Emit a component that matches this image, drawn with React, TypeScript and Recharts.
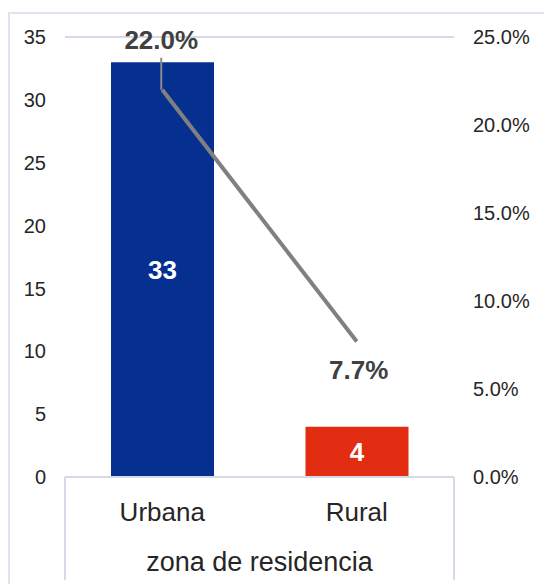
import {
  Bar,
  CartesianGrid,
  Cell,
  ComposedChart,
  LabelList,
  Line,
  XAxis,
  YAxis,
} from 'recharts';

const zonas = ['Urbana', 'Rural'];
const casos = [33, 4];
const porcentajes = [0.22, 0.077];
const barColors = ['#06308f', '#e32d12'];
const leftTicks = [0, 5, 10, 15, 20, 25, 30, 35];
const rightTicks = [0, 0.05, 0.1, 0.15, 0.2, 0.25];

const data = zonas.map((zona, i) => ({
  zona,
  casos: casos[i],
  pct: porcentajes[i],
}));

const FONT = '"Liberation Sans", Arial, sans-serif';
const GRID = '#d6dae8';

function PctLabel(props: any) {
  const { x, y, value, index } = props;
  const text = (value * 100).toFixed(1) + '%';
  if (index === 0) {
    return (
      <g>
        <line x1={x - 1} y1={y - 32} x2={x - 1} y2={y} stroke="#8a8a8a" strokeWidth={2} />
        <text x={x - 1} y={y - 41} textAnchor="middle" fontFamily={FONT} fontSize={26} fontWeight="bold" fill="#404040">
          {text}
        </text>
      </g>
    );
  }
  return (
    <text x={x + 2} y={y + 38} textAnchor="middle" fontFamily={FONT} fontSize={26} fontWeight="bold" fill="#404040">
      {text}
    </text>
  );
}

function AxisBox(props: any) {
  const { viewBox } = props;
  const { x, y, width } = viewBox;
  return (
    <g>
      <line x1={x} y1={y} x2={x} y2={y + 103} stroke={GRID} strokeWidth={2} />
      <line x1={x + width} y1={y} x2={x + width} y2={y + 103} stroke={GRID} strokeWidth={2} />
      <text x={x + width / 2} y={y + 94} textAnchor="middle" fontFamily={FONT} fontSize={27} fill="#262626">
        zona de residencia
      </text>
    </g>
  );
}

export default function App() {
  return (
    <div style={{ position: 'absolute', left: 0, top: 0, width: 544, height: 584, background: '#fff' }}>
      <div
        style={{
          position: 'absolute',
          left: 8,
          top: 12,
          right: 0,
          bottom: 0,
          borderLeft: '2px solid #e0e4f0',
          borderTop: '2px solid #e0e4f0',
        }}
      />
      <div style={{ position: 'absolute', left: 0, top: 0 }}>
        <ComposedChart width={544} height={584} data={data} margin={{ top: 37, right: 0, left: 0, bottom: 0 }}>
          <CartesianGrid vertical={false} stroke={GRID} strokeWidth={2} />
          <XAxis
            dataKey="zona"
            height={107}
            tickLine={false}
            tickSize={0}
            tickMargin={26}
            axisLine={{ stroke: GRID, strokeWidth: 2 }}
            tick={{ fontFamily: FONT, fontSize: 26, fill: '#262626' }}
            label={<AxisBox />}
          />
          <YAxis
            yAxisId="left"
            width={65}
            domain={[0, 35]}
            ticks={leftTicks}
            axisLine={false}
            tickLine={false}
            tickSize={0}
            tickMargin={19}
            tick={{ fontFamily: FONT, fontSize: 20, fill: '#262626' }}
          />
          <YAxis
            yAxisId="right"
            orientation="right"
            width={90}
            domain={[0, 0.25]}
            ticks={rightTicks}
            axisLine={false}
            tickLine={false}
            tickSize={0}
            tickMargin={19}
            tickFormatter={(v: number) => (v * 100).toFixed(1) + '%'}
            tick={{ fontFamily: FONT, fontSize: 20, fill: '#262626', textAnchor: 'start' }}
          />
          <Bar yAxisId="left" dataKey="casos" barSize={103} isAnimationActive={false}>
            {data.map((d, i) => (
              <Cell key={d.zona} fill={barColors[i]} />
            ))}
            <LabelList
              dataKey="casos"
              position="center"
              fill="#ffffff"
              fontFamily={FONT}
              fontSize={26}
              fontWeight="bold"
            />
          </Bar>
          <Line
            yAxisId="right"
            dataKey="pct"
            stroke="#808080"
            strokeWidth={4}
            dot={false}
            activeDot={false}
            isAnimationActive={false}
          >
            <LabelList dataKey="pct" content={<PctLabel />} />
          </Line>
        </ComposedChart>
      </div>
    </div>
  );
}
